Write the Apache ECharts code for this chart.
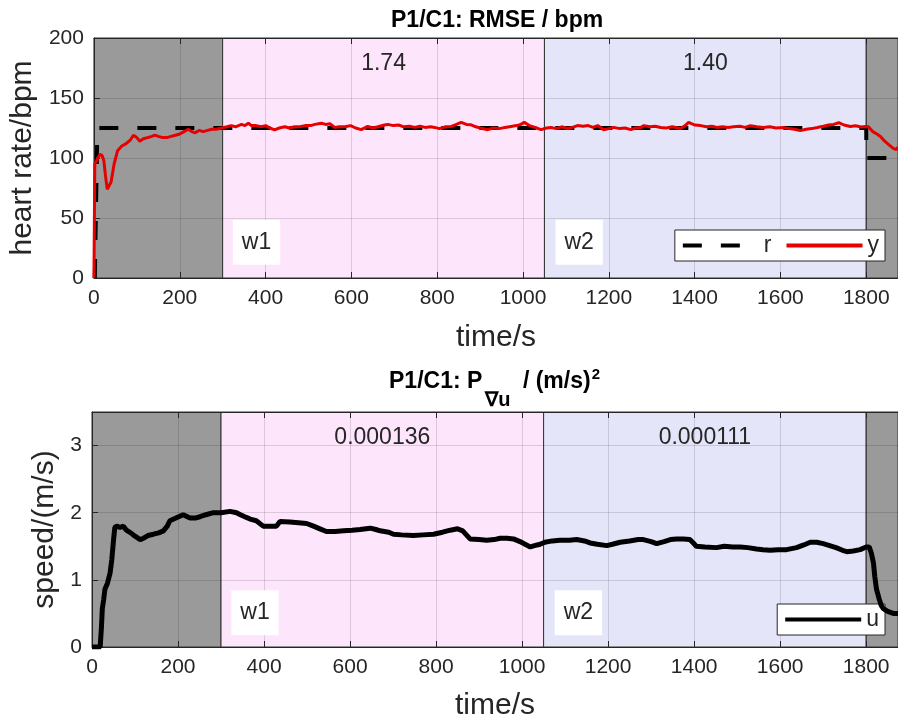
<!DOCTYPE html>
<html>
<head>
<meta charset="utf-8">
<script src="https://cdn.jsdelivr.net/npm/echarts@6/dist/echarts.min.js"></script>
<style>
html, body { margin: 0; padding: 0; background: #fff; }
#main { width: 898px; height: 722px; }
</style>
</head>
<body>
<div id="main"></div>
<script>
// window edges (s) and values shown in each window
var xMax = 1874;
var windowEdges = [0, 300, 1050, 1800, xMax];
var rmseText = ['1.74', '1.40'];
var powerText = ['0.000136', '0.000111'];
var windowNames = ['w1', 'w2'];

// reference heart rate r
var refTime = [2, 8, 1800, 1800, 1874];
var refHr = [0, 125, 125, 100, 100];

// measured heart rate y
var hrTime = [0, 2, 5, 9, 14, 19, 23, 27, 31, 35, 40, 47, 55, 65, 75, 85, 92, 100, 107, 115, 125, 135, 142, 150, 160, 170, 180, 190, 200, 210, 220, 228, 236, 245, 255, 265, 275, 285, 298,
  310, 320, 330, 344, 352, 360, 367, 378, 390, 400, 410, 421, 432, 445, 455, 468, 480, 492, 505, 515, 530, 540, 550, 561, 572, 585, 598, 610, 623, 638, 650, 662, 677, 685, 698,
  710, 722, 735, 748, 760, 772, 785, 794, 805, 820, 833, 845, 856, 868, 879, 890, 900, 918, 930, 945, 958, 972, 985, 995, 1003, 1015, 1028, 1042, 1055, 1065, 1078, 1090, 1104,
  1115, 1127, 1140, 1152, 1163, 1174, 1188, 1200, 1212, 1225, 1238, 1251, 1263, 1275, 1282, 1295, 1308, 1321, 1334, 1348, 1367, 1378, 1386, 1400, 1414, 1428, 1440, 1452,
  1465, 1478, 1491, 1505, 1518, 1530, 1545, 1560, 1575, 1590, 1607, 1620, 1633, 1646, 1660, 1673, 1686, 1700, 1712, 1724, 1736, 1748, 1763, 1775, 1788, 1798, 1805, 1815,
  1825, 1833, 1843, 1853, 1863, 1870, 1874];
var hrValue = [0, 95, 97, 100, 103, 102, 98, 85, 74, 73, 80, 95, 106, 110, 112, 115, 119, 117, 114, 116, 117, 118, 119, 118, 117, 117, 118, 119, 120, 122, 124, 122, 121, 123, 122, 123, 124, 124, 125,
  126, 127, 126, 128, 127, 129, 127, 127, 126, 127, 125, 123.5, 125, 126, 125, 126, 126, 127, 127, 128, 129, 128, 128.5, 125.5, 126, 126, 127, 125, 123.6, 126.3, 125, 126, 127.5, 128, 127,
  127.5, 126, 126.5, 125.5, 126.5, 125.5, 126, 125.5, 124.5, 126, 126.3, 128, 129.7, 128, 127.7, 126, 125, 123.6, 125, 124.5, 125.5, 126.3, 127, 128, 129.7, 127, 125.5, 123.6, 125, 125.4, 124.5, 126, 124.6,
  125.5, 127, 126.5, 127, 125.5, 127, 123.6, 124.5, 125.5, 124.5, 125, 123.6, 125, 125.5, 127, 126, 126.5, 125.4, 125, 126, 124.6, 127, 129.7, 127.5, 127, 126, 126.5, 125.5,
  126, 125.5, 126, 126.5, 125.5, 127, 126, 125.5, 126, 125, 125.4, 124.5, 124, 122.8, 124, 124.5, 125.4, 126.5, 127.5, 128, 129.4, 127.5, 126.3, 126.8, 125.8, 126.3, 126, 122,
  120, 118, 114, 111, 108, 107, 109];

// speed u
var uTime = [0, 19, 22, 24, 27, 30, 36, 42, 46, 50, 53, 58, 65, 73, 80, 90, 100, 112, 120, 130, 143, 155, 166, 175, 181, 195, 212, 228, 240, 251, 265, 282, 300, 321, 336, 345, 359, 370, 382,
  398, 415, 429, 437, 460, 480, 499, 515, 530, 545, 565, 585, 605, 623, 647, 660, 670, 690, 701, 720, 747, 770, 794, 815, 833, 850, 862, 879, 900, 918, 935, 949, 965, 980, 995,
  1019, 1035, 1042, 1053, 1070, 1088, 1110, 1127, 1145, 1158, 1175, 1197, 1210, 1228, 1250, 1270, 1282, 1300, 1313, 1330, 1345, 1359, 1375, 1390, 1398, 1405, 1425, 1452,
  1470, 1490, 1507, 1525, 1545, 1560, 1577, 1595, 1615, 1638, 1655, 1670, 1685, 1700, 1715, 1730, 1745, 1755, 1770, 1786, 1800, 1807, 1812, 1817, 1820, 1824, 1830, 1835,
  1840, 1850, 1863, 1874];
var uValue = [0, 0, 0.3, 0.57, 0.7, 0.86, 0.95, 1.1, 1.3, 1.59, 1.78, 1.8, 1.78, 1.8, 1.74, 1.7, 1.65, 1.6, 1.62, 1.66, 1.68, 1.7, 1.73, 1.8, 1.88, 1.92, 1.97, 1.92, 1.92, 1.94, 1.97, 2.0, 2.0, 2.02, 2.0, 1.97, 1.93, 1.9, 1.88,
  1.8, 1.8, 1.8, 1.87, 1.86, 1.85, 1.84, 1.8, 1.76, 1.72, 1.72, 1.73, 1.74, 1.75, 1.77, 1.75, 1.73, 1.71, 1.68, 1.67, 1.66, 1.67, 1.68, 1.71, 1.74, 1.76, 1.73, 1.61, 1.6, 1.59, 1.6, 1.62, 1.62, 1.61, 1.57,
  1.49, 1.52, 1.53, 1.56, 1.58, 1.59, 1.59, 1.6, 1.58, 1.55, 1.53, 1.51, 1.53, 1.56, 1.58, 1.6, 1.6, 1.57, 1.54, 1.57, 1.6, 1.61, 1.61, 1.6, 1.55, 1.5, 1.49, 1.48,
  1.5, 1.49, 1.49, 1.48, 1.46, 1.45, 1.44, 1.45, 1.45, 1.48, 1.52, 1.56, 1.56, 1.54, 1.51, 1.48, 1.44, 1.42, 1.43, 1.45, 1.49, 1.49, 1.4, 1.25, 1.05, 0.86, 0.72, 0.62,
  0.57, 0.53, 0.5, 0.5];

// where the w1/w2 tags sit
var tagTime = [379, 1131];
var tagHr = 29.8;
var tagU = 0.51;

var font = 'Liberation Sans, Arial, sans-serif';
var ink = '#262626';
var colGray = '#9a9a9a';
var colPink = '#fde5fb';
var colBlue = '#e4e5f9';
// legend icons: solid bar and two dashes (same 76 wide box)
var solidIcon = 'path://M0,0H76V4H0Z';
var dashIcon = 'path://M0,0H19V4H0Z M38,0H57V4H38Z M76,0V4Z';

function zip(a, b) {
  var out = [];
  for (var i = 0; i < a.length; i++) out.push([a[i], b[i]]);
  return out;
}

function bands(texts) {
  var cols = [colGray, colPink, colBlue, colGray];
  var d = [];
  for (var i = 0; i < windowEdges.length - 1; i++) {
    var name = (i === 1 || i === 2) ? texts[i - 1] : '';
    d.push([{ xAxis: windowEdges[i], name: name, itemStyle: { color: cols[i], borderColor: '#333', borderWidth: 1 } },
      { xAxis: windowEdges[i + 1] }]);
  }
  return d;
}

function tags(yVal) {
  var d = [];
  for (var i = 0; i < windowNames.length; i++) {
    d.push({ coord: [tagTime[i], yVal], name: windowNames[i] });
  }
  return d;
}

function bottomAxis(grid, nameGap) {
  return {
    type: 'value', gridIndex: grid, min: 0, max: xMax, interval: 200, z: 2,
    name: 'time/s', nameLocation: 'middle', nameGap: nameGap,
    nameTextStyle: { fontSize: 30, color: ink, fontFamily: font },
    axisLine: { show: true, lineStyle: { color: ink, width: 1 } },
    axisTick: { show: true, inside: true, length: 6, lineStyle: { color: ink } },
    axisLabel: { fontSize: 21, color: ink, fontFamily: font, margin: 10, showMaxLabel: false,
      formatter: function(v) { return String(v); } },
    splitLine: { show: true, lineStyle: { color: 'rgba(0,0,0,0.13)', width: 1 } }
  };
}

function topAxis(grid) {
  return {
    type: 'value', gridIndex: grid, position: 'top', min: 0, max: xMax, interval: 200, z: 2,
    axisLine: { show: true, lineStyle: { color: ink, width: 1 } },
    axisTick: { show: true, inside: true, length: 6, lineStyle: { color: ink } },
    axisLabel: { show: false },
    splitLine: { show: false }
  };
}

function leftAxis(grid, max, interval, name, nameGap, showMax) {
  return {
    type: 'value', gridIndex: grid, min: 0, max: max, interval: interval, z: 2,
    name: name, nameLocation: 'middle', nameGap: nameGap,
    nameTextStyle: { fontSize: 30, color: ink, fontFamily: font },
    axisLine: { show: true, lineStyle: { color: ink, width: 1 } },
    axisTick: { show: true, inside: true, length: 6, lineStyle: { color: ink } },
    axisLabel: { fontSize: 21, color: ink, fontFamily: font, margin: 10, showMaxLabel: showMax },
    splitLine: { show: true, lineStyle: { color: 'rgba(0,0,0,0.13)', width: 1 } }
  };
}

var bandLabel = { show: true, position: 'insideTop', distance: 15, formatter: '{b}', fontSize: 23, color: ink, fontFamily: font };
var tagLabel = { show: true, position: 'inside', formatter: '{b}', fontSize: 23, color: ink, fontFamily: font,
  backgroundColor: '#fff', padding: [11, 9, 11, 9] };
var legendText = { fontSize: 23, color: ink, fontFamily: font };

var myChart = echarts.init(document.getElementById('main'));
var option = {
  animation: false,
  backgroundColor: '#fff',
  title: [{
    text: 'P1/C1: RMSE / bpm', left: 391, top: 9, padding: 0,
    textStyle: { fontSize: 23, fontWeight: 'bold', color: '#000', fontFamily: font }
  }, {
    text: '{a|P1/C1: P}{b|∇u}{a| / (m/s)}{c|2}', left: 389, top: 360, padding: 0,
    textStyle: {
      fontFamily: font,
      rich: {
        a: { fontSize: 23, fontWeight: 'bold', color: '#000', fontFamily: font, lineHeight: 44 },
        b: { fontSize: 20, fontWeight: 'bold', color: '#000', fontFamily: font, lineHeight: 6, padding: [36, 6, 0, 3] },
        c: { fontSize: 15, fontWeight: 'bold', color: '#000', fontFamily: font, lineHeight: 18, padding: [0, 0, 14, 1] }
      }
    }
  }],
  legend: [{
    data: [
      { name: 'r', icon: dashIcon, itemStyle: { color: '#000' } },
      { name: 'y', icon: solidIcon, itemStyle: { color: '#e60000' } }
    ],
    right: 13, top: 230, orient: 'horizontal',
    itemWidth: 76, itemHeight: 4, itemGap: 15,
    backgroundColor: '#fff', borderColor: ink, borderWidth: 1, borderRadius: 0,
    padding: [4, 6, 4, 8],
    textStyle: legendText
  }, {
    data: [{ name: 'u', icon: solidIcon, itemStyle: { color: '#000' } }],
    right: 13, top: 604, orient: 'horizontal',
    itemWidth: 76, itemHeight: 4,
    backgroundColor: '#fff', borderColor: ink, borderWidth: 1, borderRadius: 0,
    padding: [4, 6, 4, 8],
    textStyle: legendText
  }],
  grid: [
    { left: 92, top: 38, right: 0, height: 240 },
    { left: 92, top: 412, right: 0, height: 240 }
  ],
  xAxis: [bottomAxis(0, 45), topAxis(0), bottomAxis(1, 44), topAxis(1)],
  yAxis: [
    leftAxis(0, 200, 50, 'heart rate/bpm', 52, true),
    leftAxis(1, 3.5, 1, 'speed/(m/s)', 25, false)
  ],
  series: [{
    type: 'line', xAxisIndex: 0, yAxisIndex: 0, data: [], silent: true,
    markArea: { silent: true, z: 1, label: bandLabel, data: bands(rmseText) },
    markPoint: { silent: true, symbol: 'rect', symbolSize: 0, label: tagLabel, data: tags(tagHr) }
  }, {
    type: 'line', xAxisIndex: 2, yAxisIndex: 1, data: [], silent: true,
    markArea: { silent: true, z: 1, label: bandLabel, data: bands(powerText) },
    markPoint: { silent: true, symbol: 'rect', symbolSize: 0, label: tagLabel, data: tags(tagU) }
  }, {
    name: 'r', type: 'line', xAxisIndex: 0, yAxisIndex: 0, z: 3, symbol: 'none',
    data: zip(refTime, refHr),
    itemStyle: { color: '#000' },
    lineStyle: { color: '#000', width: 4, type: [19, 19] }
  }, {
    name: 'y', type: 'line', xAxisIndex: 0, yAxisIndex: 0, z: 4, symbol: 'none',
    data: zip(hrTime, hrValue),
    itemStyle: { color: '#e60000' },
    lineStyle: { color: '#e60000', width: 3 }
  }, {
    name: 'u', type: 'line', xAxisIndex: 2, yAxisIndex: 1, z: 4, symbol: 'none',
    data: zip(uTime, uValue),
    itemStyle: { color: '#000' },
    lineStyle: { color: '#000', width: 5 }
  }]
};
myChart.setOption(option);
</script>
</body>
</html>
